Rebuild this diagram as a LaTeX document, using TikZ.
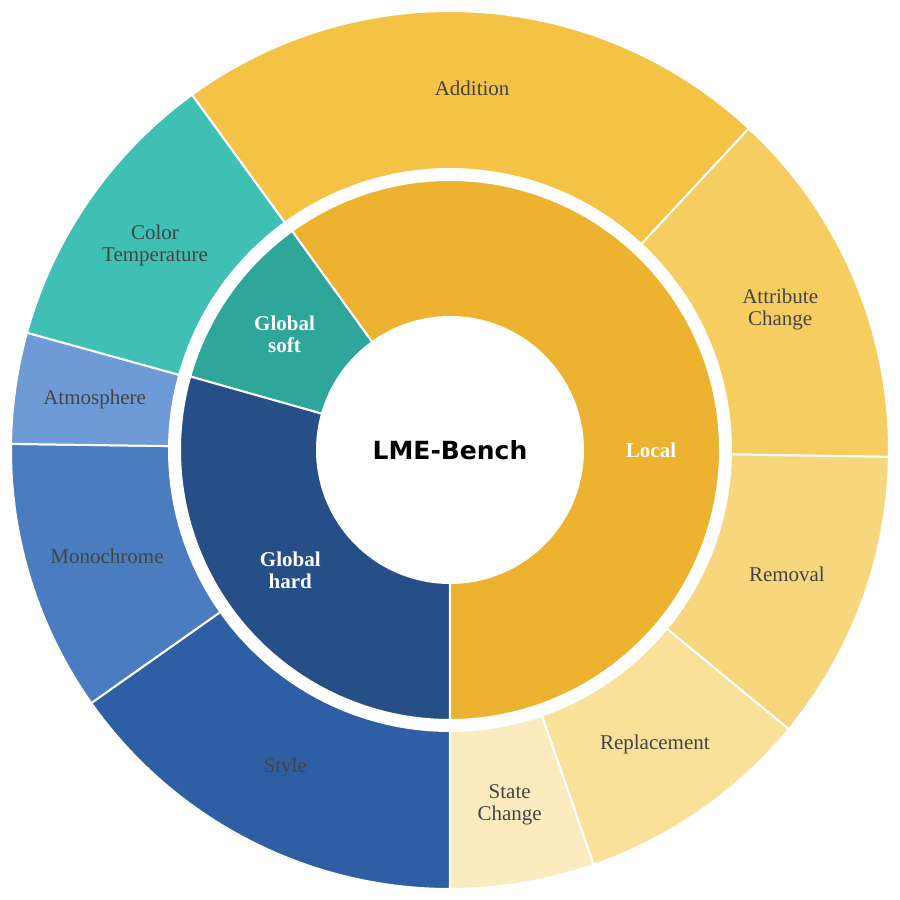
\documentclass[tikz,border=0pt]{standalone}
\usepackage{fontspec}
\setmainfont{Liberation Serif}
\newfontfamily\titlefont{DejaVu Sans}
\definecolor{cLocal}{HTML}{EDB230}
\definecolor{cAdd}{HTML}{F4C244}
\definecolor{cAttr}{HTML}{F6CD60}
\definecolor{cRem}{HTML}{F7D67D}
\definecolor{cRepl}{HTML}{F9E19A}
\definecolor{cState}{HTML}{FBECC0}
\definecolor{cSoft}{HTML}{2EA69A}
\definecolor{cTemp}{HTML}{40BFB5}
\definecolor{cHard}{HTML}{274F87}
\definecolor{cStyle}{HTML}{2E5FA5}
\definecolor{cMono}{HTML}{4A7CC0}
\definecolor{cAtmo}{HTML}{6E9AD5}
\definecolor{labelgray}{HTML}{444444}

\newcommand{\ringpart}[5]{% color, from, to, inner r, outer r
  \filldraw[fill=#1, draw=white, line width=2pt]
    (#2:#4) arc (#2:#3:#4) -- (#3:#5) arc (#3:#2:#5) -- cycle;
}

\tikzset{
  outer label/.style={text=labelgray, font=\fontsize{21}{22}\selectfont, align=center},
  inner label/.style={text=white, font=\bfseries\fontsize{21}{22}\selectfont, align=center}
}

\begin{document}
\begin{tikzpicture}[x=1pt,y=1pt]
\useasboundingbox (-450,-450) rectangle (450,450);

% inner ring
\ringpart{cLocal}{-90}{125.8}{133}{270}
\ringpart{cSoft}{125.8}{164.2}{133}{270}
\ringpart{cHard}{164.2}{270}{133}{270}

% outer ring
\foreach \col/\a/\b in {cAdd/47.1/126, cAttr/-0.9/47.1, cRem/-39.5/-0.9,
    cRepl/-70.9/-39.5, cState/-90/-70.9, cStyle/-144.8/-90,
    cMono/179.2/215.2, cAtmo/164.5/179.2, cTemp/126/164.5}
  {\ringpart{\col}{\a}{\b}{281}{439}}

\node (bench) at (0,0) {\titlefont\bfseries\fontsize{25}{26}\selectfont LME-Bench};

\node[inner label] (local) at (0:201) {Local};
\node[inner label] (soft) at (145:202) {Global\\soft};
\node[inner label] (hard) at (217:200) {Global\\hard};

\node[outer label] (addition) at (86.5:362) {Addition};
\node[outer label] (attribute) at (23.1:359) {Attribute\\Change};
\node[outer label] (removal) at (-20.2:359) {Removal};
\node[outer label] (replacement) at (-55.2:359) {Replacement};
\node[outer label] (state) at (-80.45:360) {State\\Change};
\node[outer label] (style) at (-117.4:358) {Style};
\node[outer label] (mono) at (197.2:359) {Monochrome};
\node[outer label] (atmo) at (171.85:359) {Atmosphere};
\node[outer label] (temp) at (145.25:359) {Color\\Temperature};
\end{tikzpicture}
\end{document}
